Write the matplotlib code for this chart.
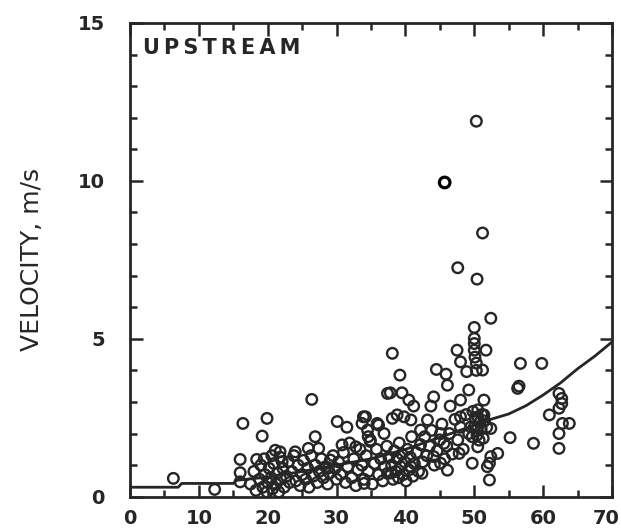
import matplotlib
matplotlib.use('Agg')
import matplotlib.pyplot as plt
import matplotlib.transforms as mtransforms
from matplotlib.ticker import MultipleLocator

# Observed velocities (upstream) vs. x
x_obs = [
    6.3, 12.3, 16.4, 19.9, 19.2, 21.1, 16.0, 18.4, 16.0, 16.0, 22.1,
    26.4, 30.1, 31.5, 33.9, 33.7, 36.1, 37.4, 26.9, 25.9, 27.4, 24.0, 29.1, 30.8, 21.8,
    28.8, 34.6, 32.8, 34.5, 34.9, 36.9, 34.0, 35.9, 34.2,
    17.5, 18.0, 18.3, 18.8, 19.0, 19.3, 19.6, 19.9, 20.0, 20.2, 20.5, 20.7, 20.9,
    21.2, 21.4, 21.6, 21.9, 22.2, 22.4, 22.7, 23.0, 23.2, 19.5, 20.6, 21.8,
    23.5, 23.8, 24.1, 24.4, 24.7, 25.0, 25.2, 25.5, 25.8, 26.0, 26.3, 26.6, 26.9,
    27.2, 27.5, 27.8, 28.1, 28.4, 28.7, 29.0, 29.5, 29.8, 30.0,
    30.3, 30.6, 31.0, 31.3, 31.6, 31.9, 32.2, 32.5, 32.8, 33.1, 33.4, 33.7, 34.0,
    34.3, 34.6, 34.9, 35.2, 35.5, 35.8, 36.1, 36.4, 36.7, 37.0, 37.3, 37.6, 37.9,
    38.0, 38.2, 38.4, 38.6, 38.8, 39.0, 39.1, 39.3, 39.5, 39.7, 39.9, 40.1, 40.3,
    40.5, 40.7, 40.9, 41.1, 41.3, 41.6, 41.9, 42.2, 42.5, 42.8, 43.1,
    43.5, 43.8, 44.2, 44.6, 45.0, 45.3, 45.7, 46.0, 46.4, 46.8, 47.2, 47.6, 48.0,
    48.4, 48.8, 49.2,
    49.8, 50.2, 50.5, 50.8, 51.1, 51.5, 50.0, 51.0, 51.8, 50.4, 51.3,
    38.1, 39.2, 37.8, 39.5, 40.5, 41.2, 44.5, 45.9, 46.1, 44.1, 43.7, 46.5,
    47.5, 48.0, 48.9, 50.0, 50.0, 50.0, 50.0, 50.1, 50.3, 50.3, 51.7, 51.2, 51.4,
    52.4, 49.2, 48.0, 48.0, 50.5, 51.4, 49.5, 50.5, 49.7, 50.7, 50.5, 52.4,
    55.2, 58.6, 56.7, 59.8, 56.3, 56.5, 60.9, 62.3, 62.7, 62.3, 62.8, 63.8, 62.3,
    62.3, 62.7, 53.4, 52.4, 52.2, 51.9, 52.2, 49.7, 47.8, 46.1, 45.1, 42.4, 44.1,
    45.6, 45.1, 43.2, 42.2, 40.8, 39.8, 38.8, 38.1, 37.4, 40.8,
    50.3, 51.2, 47.6, 50.4,
]
y_obs = [
    0.58, 0.23, 2.32, 2.48, 1.92, 1.47, 1.18, 1.18, 0.76, 0.47, 1.11,
    3.08, 2.38, 2.2, 2.53, 2.32, 2.27, 3.27, 1.9, 1.53, 1.53, 1.42, 1.16, 1.64, 1.42,
    0.91, 1.9, 1.58, 2.11, 1.79, 2.0, 0.42, 2.32, 2.53,
    0.4, 0.8, 0.2, 0.55, 1.0, 0.3, 0.7, 0.15, 0.45, 0.9, 0.6, 0.25, 1.05,
    0.4, 0.75, 0.15, 0.55, 0.9, 0.3, 0.65, 1.1, 0.45, 1.2, 1.3, 1.25,
    0.8, 1.3, 0.5, 1.0, 0.35, 0.7, 1.15, 0.55, 0.9, 0.3, 1.3, 0.65, 1.0,
    0.45, 0.8, 1.2, 0.6, 0.95, 0.4, 0.75, 1.3, 0.9, 0.55,
    1.1, 0.7, 1.4, 0.45, 0.95, 1.7, 0.6, 1.2, 0.35, 0.85, 1.5, 1.0, 0.55,
    1.3, 0.8, 1.75, 0.4, 1.05, 1.5, 0.7, 1.2, 0.5, 0.95, 1.6, 1.25, 0.75,
    1.0, 0.55, 1.45, 0.8, 1.2, 0.6, 1.7, 0.95, 1.35, 0.7, 1.1, 0.5, 1.5,
    0.85, 1.25, 1.9, 0.65, 1.05, 1.4, 0.8, 1.65, 1.1, 1.9, 1.3,
    1.6, 2.1, 1.0, 1.45, 1.8, 2.3, 1.2, 1.6, 2.0, 1.35, 2.45, 1.8, 2.2,
    1.5, 2.6, 2.0,
    2.7, 2.45, 2.75, 2.35, 2.6, 2.4, 2.2, 2.15, 2.2, 1.95, 1.85,
    4.54, 3.85, 3.29, 3.29, 3.06, 2.87, 4.03, 3.88, 3.53, 3.16, 2.87, 2.87,
    4.64, 4.27, 3.96, 5.36, 5.01, 4.85, 4.64, 4.42, 4.23, 4.0, 4.64, 4.01, 3.06,
    5.65, 3.38, 3.06, 2.53, 2.53, 2.59, 2.21, 2.21, 1.9, 1.79, 1.58, 2.16,
    1.87, 1.69, 4.22, 4.22, 3.43, 3.5, 2.59, 3.27, 3.11, 2.8, 2.32, 2.32, 2.0,
    1.53, 2.95, 1.37, 1.27, 1.06, 0.95, 0.53, 1.06, 1.37, 0.84, 1.06, 0.74, 1.27,
    1.69, 2.0, 2.43, 2.11, 2.43, 2.53, 2.59, 2.48, 0.74, 0.95,
    11.89, 8.35, 7.25, 6.89,
]

# single highlighted observation
x_hi = [45.7]
y_hi = [9.95]

# fitted trend line
x_fit = [0, 7, 7.5, 15, 15.5, 20, 25, 30, 35, 40, 46.6, 52.4, 55, 57.5, 60, 62.5, 65, 67.5, 70]
y_fit = [0.3, 0.3, 0.42, 0.42, 0.52, 0.62, 0.8, 1.0, 1.2, 1.5, 2.0, 2.45, 2.62, 2.88, 3.22, 3.6, 4.05, 4.45, 4.9]

ink = '#262626'

fig = plt.figure(figsize=(6.21, 5.31), dpi=100)
ax = fig.add_axes([0.2093, 0.0646, 0.7762, 0.8921])

ax.scatter(x_obs, y_obs, s=58, facecolors='none', edgecolors=ink, linewidths=1.7, zorder=3)
ax.scatter(x_hi, y_hi, s=58, facecolors='none', edgecolors='black', linewidths=2.3, zorder=4)
ax.plot(x_fit, y_fit, color=ink, linewidth=2.0, zorder=2)

ax.set_xlim(0, 70)
ax.set_ylim(0, 15)
ax.xaxis.set_major_locator(MultipleLocator(10))
ax.xaxis.set_minor_locator(MultipleLocator(5))
ax.yaxis.set_major_locator(MultipleLocator(5))
ax.yaxis.set_minor_locator(MultipleLocator(1))
ax.tick_params(which='both', direction='in', top=True, right=True, color=ink, width=1.8)
ax.tick_params(which='major', length=9)
ax.tick_params(which='minor', length=5)
ax.tick_params(axis='x', which='major', pad=9)
ax.tick_params(axis='y', which='major', pad=18)
for lab in ax.get_xticklabels() + ax.get_yticklabels():
    lab.set_fontweight('bold')
    lab.set_fontsize(14)
    lab.set_color(ink)

# pull the "70" label in a little so it stays on the canvas
for lab in ax.get_xticklabels():
    if lab.get_text() == '70':
        lab.set_transform(lab.get_transform() + mtransforms.ScaledTranslation(-6 / 100, 0, fig.dpi_scale_trans))

for sp in ax.spines.values():
    sp.set_linewidth(2.0)
    sp.set_color(ink)

ax.set_ylabel('VELOCITY, m/s', fontsize=18, color=ink, labelpad=24)
ax.text(0.027, 0.968, '\u2009'.join('UPSTREAM'), transform=ax.transAxes, fontsize=15,
        fontweight='bold', color=ink, ha='left', va='top')

plt.savefig('out.png', dpi=100)
